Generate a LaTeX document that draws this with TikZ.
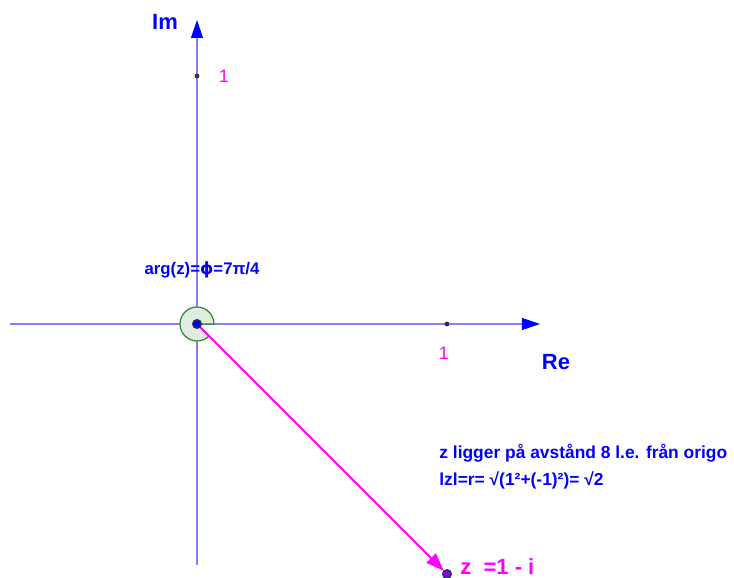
\documentclass[tikz,border=0pt]{standalone}
\usepackage{fontspec}
\setmainfont{Liberation Sans}
\newfontfamily\dejavu{DejaVu Sans}
\usetikzlibrary{arrows.meta}
\definecolor{axisblue}{RGB}{128,128,255}
\definecolor{ggblue}{RGB}{0,0,255}
\definecolor{ggpink}{RGB}{255,0,255}
\definecolor{ggviolet}{RGB}{128,0,255}
\definecolor{gggreen}{RGB}{0,100,0}
\begin{document}
\begin{tikzpicture}[x=125pt,y=125pt,
    axis/.style={color=axisblue, line width=0.6pt, -{Triangle[length=9pt,width=6pt,ggblue]}},
    axislabel/.style={color=ggblue, font=\bfseries\fontsize{11}{13}\selectfont},
    ticklabel/.style={color=ggpink, font=\fontsize{9}{11}\selectfont},
    info/.style={color=ggblue, font=\bfseries\fontsize{8.7}{10}\selectfont, anchor=west, inner sep=0pt},
    tick/.style={fill=black!80, draw=none}]
    \useasboundingbox (-0.788,-1.016) rectangle (2.148,1.296);
    \coordinate (O) at (0,0);
    \coordinate (z) at (1,-1);
    % axes
    \draw[axis] (-0.748,0) -- (1.372,0);
    \draw[axis] (0,-0.964) -- (0,1.216);
    \node[axislabel] (im) at (-0.128,1.208) {Im};
    \node[axislabel] (re) at (1.436,-0.152) {Re};
    % unit marks
    \fill[tick] (1,0) circle (1.2pt);
    \fill[tick] (0,0.992) circle (1.2pt);
    \node[ticklabel] (onex) at (0.988,-0.116) {1};
    \node[ticklabel] (oney) at (0.108,0.992) {1};
    % angle 7pi/4
    \filldraw[fill=gggreen!12, draw=gggreen!80, line width=0.6pt] (O) -- ++(0:0.068) arc (0:315:0.068) -- cycle;
    \node[color=ggblue, font=\bfseries\fontsize{8.4}{10}\selectfont] (arg) at (0.02,0.216) {arg(z)={\dejavu ϕ}=7π/4};
    % vector z
    \draw[color=ggpink, line width=1pt, shorten >=2.3pt, -{Triangle[length=9pt,width=6.5pt]}] (O) -- (z);
    \filldraw[fill=ggblue, draw=black!80, line width=0.6pt] (O) circle (2.2pt);
    \filldraw[fill=ggviolet, draw=black!80, line width=0.6pt] (z) circle (2.2pt);
    \node[color=ggpink, font=\bfseries\fontsize{11}{13}\selectfont, anchor=west, inner sep=0pt] (zlabel) at (1.052,-0.97) {z\ \ =1 - i};
    \node[info] (dist) at (0.968,-0.516) {z ligger på avstånd 8 l.e. från origo};
    \node[info] (abs) at (0.968,-0.624) {lzl=r=\;√(1²+(-1)²)=\;√2};
\end{tikzpicture}
\end{document}
